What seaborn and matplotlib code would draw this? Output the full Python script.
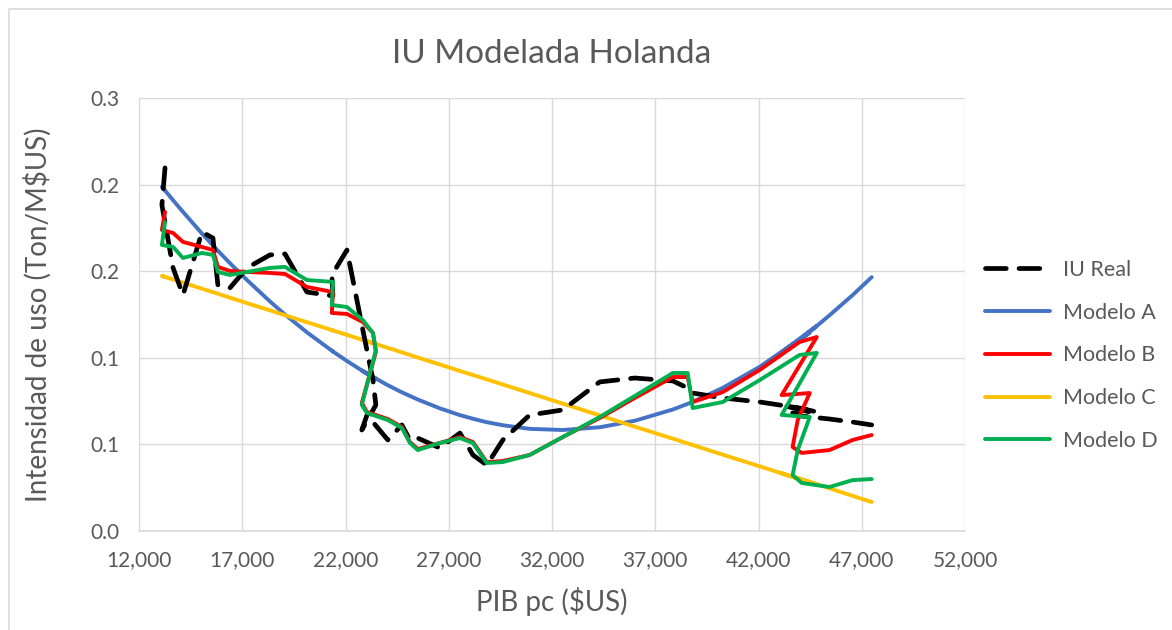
import numpy as np
import pandas as pd
import seaborn as sns
import matplotlib.pyplot as plt
from matplotlib.ticker import FuncFormatter
from matplotlib.patches import Rectangle

# PIB pc (shared x values, in time order)
pib = [13260, 13110, 13650, 14130, 15050, 15580, 15820, 16400, 17230, 18340,
       19070, 20130, 21390, 21340, 22070, 22840, 23330, 23470, 22790, 23040,
       24050, 24730, 25120, 25500, 26570, 27540, 28170, 28840, 29620, 30920,
       32520, 34310, 36010, 37850, 38570, 38810, 40270, 42060, 43990, 44820,
       43120, 44480, 43900, 43650, 44090, 45440, 46560, 47480]

iu_real = [0.2516, 0.2259, 0.1823, 0.1635, 0.2072, 0.2030, 0.1705, 0.1684, 0.1823, 0.1913,
           0.1920, 0.1656, 0.1629, 0.1774, 0.1947, 0.1393, 0.1046, 0.0873, 0.0700, 0.0804,
           0.0631, 0.0735, 0.0631, 0.0644, 0.0575, 0.0679, 0.0527, 0.0457, 0.0631, 0.0804,
           0.0839, 0.1033, 0.1060, 0.1040, 0.0991, 0.0956, 0.0922, 0.0894, 0.0852, 0.0825,
           0.0873, 0.0825, 0.0811, 0.0818, 0.0797, 0.0776, 0.0755, 0.0735]

modelo_a = [0.2359, 0.2385, 0.2292, 0.2211, 0.2061, 0.1979, 0.1942, 0.1856, 0.1739, 0.1591,
            0.1500, 0.1377, 0.1244, 0.1249, 0.1178, 0.1108, 0.1067, 0.1055, 0.1112, 0.1091,
            0.1010, 0.0961, 0.0936, 0.0911, 0.0850, 0.0803, 0.0778, 0.0754, 0.0733, 0.0708,
            0.0700, 0.0719, 0.0764, 0.0842, 0.0881, 0.0895, 0.0992, 0.1138, 0.1329, 0.1421,
            0.1239, 0.1375, 0.1312, 0.1286, 0.1333, 0.1495, 0.1635, 0.1759]

modelo_b = [0.2211, 0.2086, 0.2065, 0.2003, 0.1968, 0.1947, 0.1830, 0.1802, 0.1795, 0.1788,
            0.1781, 0.1691, 0.1656, 0.1511, 0.1504, 0.1448, 0.1372, 0.1240, 0.0887, 0.0825,
            0.0776, 0.0721, 0.0617, 0.0568, 0.0610, 0.0651, 0.0617, 0.0478, 0.0485, 0.0527,
            0.0651, 0.0783, 0.0922, 0.1067, 0.1067, 0.0894, 0.0963, 0.1116, 0.1310, 0.1344,
            0.0942, 0.0956, 0.0769, 0.0582, 0.0541, 0.0561, 0.0631, 0.0665]

modelo_c = [0.1760, 0.1767, 0.1743, 0.1721, 0.1679, 0.1655, 0.1644, 0.1617, 0.1579, 0.1529,
            0.1495, 0.1447, 0.1390, 0.1392, 0.1359, 0.1324, 0.1301, 0.1295, 0.1326, 0.1315,
            0.1269, 0.1238, 0.1220, 0.1202, 0.1154, 0.1109, 0.1081, 0.1051, 0.1015, 0.0956,
            0.0883, 0.0801, 0.0723, 0.0640, 0.0607, 0.0596, 0.0529, 0.0448, 0.0360, 0.0322,
            0.0400, 0.0338, 0.0365, 0.0376, 0.0358, 0.0296, 0.0243, 0.0201]

modelo_d = [0.2141, 0.1982, 0.1968, 0.1892, 0.1927, 0.1913, 0.1795, 0.1774, 0.1795, 0.1823,
            0.1830, 0.1739, 0.1726, 0.1566, 0.1552, 0.1462, 0.1372, 0.1254, 0.0873, 0.0818,
            0.0769, 0.0714, 0.0610, 0.0561, 0.0610, 0.0644, 0.0610, 0.0471, 0.0478, 0.0527,
            0.0651, 0.0790, 0.0936, 0.1095, 0.1095, 0.0852, 0.0894, 0.1046, 0.1220, 0.1234,
            0.0804, 0.0790, 0.0561, 0.0388, 0.0333, 0.0305, 0.0353, 0.0360]

series = ['IU Real', 'Modelo A', 'Modelo B', 'Modelo C', 'Modelo D']
colors = ['black', '#4472C4', '#FF0000', '#FFC000', '#00B050']

df = pd.DataFrame({'pib': pib, 'IU Real': iu_real, 'Modelo A': modelo_a,
                   'Modelo B': modelo_b, 'Modelo C': modelo_c, 'Modelo D': modelo_d})

sns.set_style('whitegrid')
plt.rcParams['font.family'] = ['Lato', 'DejaVu Sans']
txt = '#595959'
dash = (0, (4.4, 2.7))

fig = plt.figure(figsize=(11.72, 6.3), dpi=100)
ax = fig.add_axes([0.1186, 0.1571, 0.7048, 0.6873])

draw_order = ['Modelo A', 'Modelo C', 'IU Real', 'Modelo B', 'Modelo D']
for name in draw_order:
    col = colors[series.index(name)]
    if name == 'IU Real':
        sns.lineplot(data=df, x='pib', y=name, sort=False, estimator=None, ax=ax,
                     color=col, lw=3.4, linestyle=dash,
                     dash_capstyle='round', zorder=3)
    else:
        sns.lineplot(data=df, x='pib', y=name, sort=False, estimator=None, ax=ax,
                     color=col, lw=2.8, zorder=3)

ax.set_xlim(12000, 52000)
ax.set_ylim(0, 0.3)
ax.set_xticks(np.arange(12000, 52001, 5000))
ax.set_yticks(np.arange(0, 0.301, 0.06))
ax.xaxis.set_major_formatter(FuncFormatter(lambda v, p: f'{v:,.0f}'))
ax.yaxis.set_major_formatter(FuncFormatter(lambda v, p: f'{v:.1f}'))
ax.grid(True, color='#D9D9D9', lw=1.0)
for s in ['top', 'right', 'left']:
    ax.spines[s].set_visible(False)
ax.spines['bottom'].set_color('#D9D9D9')
ax.spines['bottom'].set_linewidth(1.2)
ax.tick_params(axis='both', length=0, labelsize=15, labelcolor=txt)
ax.tick_params(axis='x', pad=14)
ax.tick_params(axis='y', pad=14)

ax.set_title('IU Modelada Holanda', fontsize=24, color=txt, pad=25)
ax.set_xlabel('PIB pc ($US)', fontsize=20, color=txt, labelpad=12)
ax.set_ylabel('Intensidad de uso (Ton/M$US)', fontsize=20, color=txt, labelpad=28)

handles = [plt.Line2D([], [], color=colors[0], lw=3.4, linestyle=dash,
                      dash_capstyle='round')]
handles += [plt.Line2D([], [], color=c, lw=2.8) for c in colors[1:]]
fig.legend(handles, series, loc='center left', bbox_to_anchor=(0.824, 0.436),
           frameon=False, fontsize=15.5, labelcolor=txt, handlelength=3.0,
           labelspacing=1.06, handletextpad=0.6)

fig.patches.append(Rectangle((9 / 1172, -0.1), 1.2, 1 - 9 / 630 + 0.1,
                             transform=fig.transFigure, fill=False,
                             edgecolor='#D9D9D9', lw=1.2))

fig.savefig('out.png', dpi=100)
